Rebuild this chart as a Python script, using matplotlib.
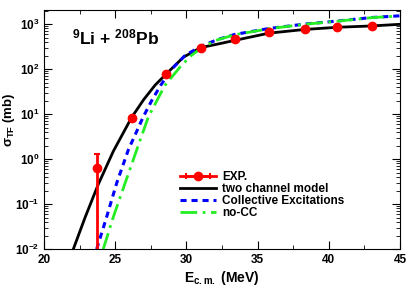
import matplotlib
matplotlib.use('Agg')
import matplotlib.pyplot as plt
import numpy as np
from matplotlib.ticker import MultipleLocator, LogLocator
from matplotlib.legend_handler import HandlerErrorbar

plt.rcParams['font.family'] = ['Liberation Sans', 'DejaVu Sans']
plt.rcParams['font.weight'] = 'bold'
plt.rcParams['mathtext.fontset'] = 'custom'
plt.rcParams['mathtext.rm'] = 'Liberation Sans:bold'
plt.rcParams['mathtext.bf'] = 'Liberation Sans:bold'
plt.rcParams['mathtext.it'] = 'Liberation Sans:bold'

# experimental data
exp_e = [23.75, 26.2, 28.6, 31.0, 33.4, 35.8, 38.3, 40.6, 43.0]
exp_sig = [0.62, 8.2, 78, 290, 465, 665, 770, 870, 930]
exp_err_lo = [0.615, 1.0, 8, 20, 30, 40, 40, 40, 40]
exp_err_hi = [0.68, 1.0, 8, 20, 30, 40, 40, 40, 40]

# two channel model
two_e = [22.06, 22.88, 23.8, 24.87, 26.16, 27.0, 27.8, 28.6, 29.8, 31.0, 32.2, 33.4, 35.8, 38.3, 40.6, 43.0, 45.0]
two_sig = [0.01, 0.05, 0.27, 1.5, 8.5, 21, 44, 79, 185, 300, 360, 435, 630, 760, 850, 910, 990]

# collective excitations
ce_e = [23.7, 24.4, 25.1, 25.92, 26.97, 27.6, 28.2, 28.97, 29.9, 30.96, 32.2, 33.4, 35.8, 38.3, 40.6, 43.0, 45.0]
ce_sig = [0.01, 0.052, 0.29, 1.6, 8.7, 21, 44, 100, 200, 315, 455, 590, 800, 1000, 1170, 1400, 1530]

# no coupling
nocc_e = [24.16, 24.87, 25.69, 26.51, 27.33, 28.0, 28.5, 29.67, 30.37, 31.19, 32.2, 33.4, 35.8, 38.3, 40.6, 43.0, 44.7]
nocc_sig = [0.01, 0.052, 0.29, 1.6, 8.7, 22, 44, 123, 204, 316, 450, 580, 790, 990, 1160, 1390, 1500]

fig = plt.figure(figsize=(4.15, 2.91), dpi=100)
ax = fig.add_axes([0.106, 0.144, 0.858, 0.823])

ax.errorbar(exp_e, exp_sig, yerr=[exp_err_lo, exp_err_hi], fmt='o', color='red',
            ms=6, lw=2, capsize=2.5, capthick=1.5, zorder=5)
h_two, = ax.plot(two_e, two_sig, color='black', lw=2)
h_ce, = ax.plot(ce_e, ce_sig, color='blue', lw=2.2, ls=(0, (2, 1.6)))
h_nocc, = ax.plot(nocc_e, nocc_sig, color='#22ee22', lw=2, ls=(0, (6, 2, 1, 2)))

# legend proxy for EXP. drawn as horizontal bar with caps
h_exp = ax.errorbar([np.nan], [np.nan], xerr=[1], fmt='-o', color='red',
                    ms=6, lw=2, capsize=2.5, capthick=1.5)

ax.set_yscale('log')
ax.set_xlim(20, 45)
ax.set_ylim(0.01, 2100)
ax.xaxis.set_major_locator(MultipleLocator(5))
ax.xaxis.set_minor_locator(MultipleLocator(2.5))
ax.yaxis.set_major_locator(LogLocator(base=10, numticks=10))
ax.yaxis.set_minor_locator(LogLocator(base=10, subs=range(2, 10), numticks=20))
ax.tick_params(which='both', direction='in', top=True, right=True, labelsize=8.5)
ax.tick_params(which='major', length=6, width=0.8)
ax.tick_params(which='minor', length=3, width=0.6)
for lab in ax.get_xticklabels() + ax.get_yticklabels():
    lab.set_fontweight('bold')

ax.set_xlabel(r'E$_{\mathrm{c.m.}}$ (MeV)', fontsize=10, fontweight='bold', labelpad=2)
ax.set_ylabel(r'$\sigma_{\mathrm{TF}}$ (mb)', fontsize=9.5, fontweight='bold')
ax.yaxis.set_label_coords(-0.075, 0.54)

ax.text(0.08, 0.855, r'$^{9}$Li + $^{208}$Pb', transform=ax.transAxes,
        fontsize=12.5, fontweight='bold')

ax.legend([h_exp, h_two, h_ce, h_nocc],
          ['EXP.', 'two channel model', 'Collective Excitations', 'no-CC'],
          handler_map={type(h_exp): HandlerErrorbar(xerr_size=1.0)},
          loc='lower left', bbox_to_anchor=(0.37, 0.105), frameon=False, fontsize=8.5,
          handlelength=3, handletextpad=0.5, labelspacing=0.0, borderaxespad=0)

fig.savefig('out.png', dpi=100)
